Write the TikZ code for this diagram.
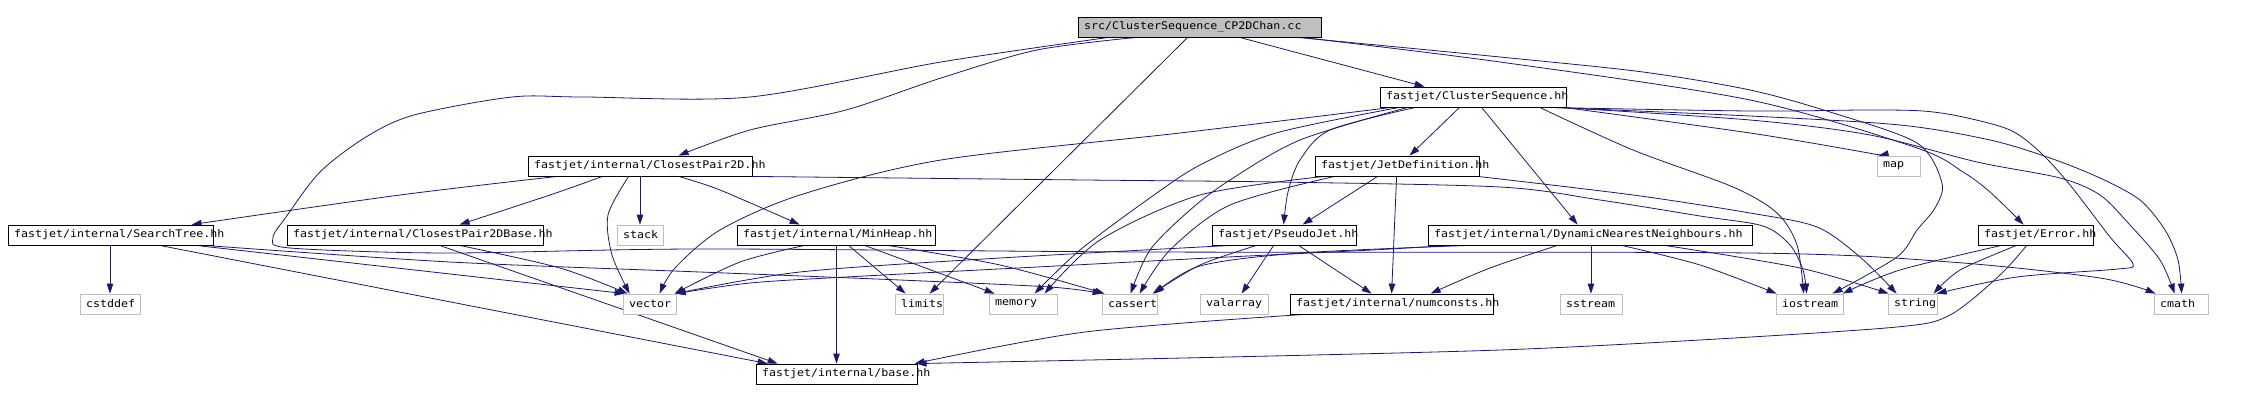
\documentclass[tikz,border=0pt]{standalone}
\usepackage{fontspec}
\usetikzlibrary{arrows.meta}
\newfontfamily\dxfont[FakeStretch=1.11]{DejaVu Sans Mono}
\definecolor{edgeblue}{HTML}{191970}
\definecolor{sysgray}{HTML}{BFBFBF}
\newcommand{\dxb}[2]{\makebox[#1pt][l]{\hspace{6pt}#2}}
\pgfdeclarelayer{edgelayer}
\pgfsetlayers{edgelayer,main}
\tikzset{
  fnode/.style={draw=black, line width=0.8pt, fill=white, minimum height=20pt, inner xsep=0pt, inner ysep=0pt, anchor=center, font=\dxfont\fontsize{10.5pt}{12pt}\selectfont},
  snode/.style={fnode, draw=sysgray},
  edge/.style={draw=edgeblue, line width=0.8pt, -{Triangle[length=10pt,width=6.5pt]}},
}
\begin{document}
\begin{tikzpicture}[x=1pt,y=-1pt]
\useasboundingbox (0,0) rectangle (2249,401);
% nodes
\node[fnode, fill=sysgray] (R) at (1199.5,27) {\dxb{243}{src/ClusterSequence\_CP2DChan.cc}};
\node[fnode] (CS) at (1473,97) {\dxb{186}{fastjet/ClusterSequence.hh}};
\node[fnode] (CP) at (640,166) {\dxb{224}{fastjet/internal/ClosestPair2D.hh}};
\node[fnode] (JD) at (1397,166) {\dxb{164}{fastjet/JetDefinition.hh}};
\node[snode] (map) at (1898.5,166) {\dxb{43}{map}};
\node[fnode] (ST) at (110.5,235) {\dxb{205}{fastjet/internal/SearchTree.hh}};
\node[fnode] (CPB) at (415,235) {\dxb{256}{fastjet/internal/ClosestPair2DBase.hh}};
\node[snode] (stack) at (640,235) {\dxb{46}{stack}};
\node[fnode] (MH) at (836,235) {\dxb{198}{fastjet/internal/MinHeap.hh}};
\node[fnode] (PJ) at (1284,235) {\dxb{144}{fastjet/PseudoJet.hh}};
\node[fnode] (DNN) at (1590,235) {\dxb{324}{fastjet/internal/DynamicNearestNeighbours.hh}};
\node[fnode] (Err) at (2035.5,235) {\dxb{115}{fastjet/Error.hh}};
\node[snode] (cstddef) at (110,304) {\dxb{60}{cstddef}};
\node[snode] (vector) at (649.5,304) {\dxb{53}{vector}};
\node[snode] (limits) at (919,304) {\dxb{48}{limits}};
\node[snode] (memory) at (1023,304) {\dxb{68}{memory}};
\node[snode] (cassert) at (1129.5,304) {\dxb{55}{cassert}};
\node[snode] (valarray) at (1234,304) {\dxb{68}{valarray}};
\node[fnode] (numconsts) at (1391.5,304) {\dxb{203}{fastjet/internal/numconsts.hh}};
\node[snode] (sstream) at (1591,304) {\dxb{62}{sstream}};
\node[snode] (iostream) at (1809.5,304) {\dxb{67}{iostream}};
\node[snode] (string) at (1912.5,304) {\dxb{49}{string}};
\node[snode] (cmath) at (2181,304) {\dxb{54}{cmath}};
\node[fnode] (base) at (836.5,374) {\dxb{161}{fastjet/internal/base.hh}};
\begin{pgfonlayer}{edgelayer}
% root
\draw[edge] ([xshift=162pt]R.south west) -- ([xshift=45pt]CS.north west);
\draw[edge] plot[smooth] coordinates {([xshift=59pt]R.south west) (1037,50) (941,78) (846,110) (750,130) ([xshift=151pt]CP.north west)};
\draw[edge] ([xshift=110pt]R.south west) -- ([xshift=35pt]limits.north west);
\draw[edge] plot[smooth] coordinates {([xshift=31pt]R.south west) (941,62) (750,97) (583,97) (512,97) (414,115) (366,137) (320,172) (286,217) (273,238) (290,248) (446,253) (700,249) (1150,252) (1750,253) (1950,262) (2100,278) ([xshift=2pt]cmath.north west)};
\draw[edge] plot[smooth] coordinates {([xshift=220pt]R.south west) (1500,57) (1643,72) (1750,90) (1830,112) (1917,143) (1942,183) (1935,208) (1917,230) (1897,257) ([xshift=57pt]iostream.north west)};
\draw[edge] plot[smooth] coordinates {([xshift=224pt]R.south west) (1500,62) (1750,100) (1917,148) (1963,172) (1990,192) ([xshift=46pt]Err.north west)};
% ClusterSequence
\draw[edge] ([xshift=80pt]CS.south west) -- ([xshift=95pt]JD.north west);
\draw[edge] ([xshift=102pt]CS.south west) -- ([xshift=150pt]DNN.north west);
\draw[edge] plot[smooth] coordinates {([xshift=36pt]CS.south west) (1330,130) (1300,160) (1288,192) ([xshift=72pt]PJ.north west)};
\draw[edge] plot[smooth] coordinates {([xshift=12pt]CS.south west) (1180,133) (941,160) (800,195) (720,230) (675,268) ([xshift=37pt]vector.north west)};
\draw[edge] plot[smooth] coordinates {([xshift=20pt]CS.south west) (1276,133) (1200,165) (1147,200) (1080,250) ([xshift=46pt]memory.north west)};
\draw[edge] plot[smooth] coordinates {([xshift=28pt]CS.south west) (1300,140) (1230,180) (1190,210) (1150,250) ([xshift=29pt]cassert.north west)};
\draw[edge] plot[smooth] coordinates {([xshift=184pt]CS.south west) (1750,133) (1863,152) ([xshift=2pt]map.north west)};
\draw[edge] plot[smooth] coordinates {([xshift=166pt]CS.south west) (1750,111) (1867,110) (1923,111) (1963,117) (2010,130) (2040,152) (2070,185) (2110,237) (2133,264) (2118,269) (2017,277) ([xshift=49pt]string.north west)};
\draw[edge] plot[smooth] coordinates {([xshift=172pt]CS.south west) (1750,116) (1900,125) (1990,140) (2050,158) (2100,178) (2140,200) (2165,230) (2178,260) ([xshift=28pt]cmath.north west)};
\draw[edge] plot[smooth] coordinates {([xshift=178pt]CS.south west) (1750,120) (1870,135) (1977,162) (2060,178) (2100,195) (2130,225) (2160,260) ([xshift=21pt]cmath.north west)};
\draw[edge] plot[smooth] coordinates {([xshift=160pt]CS.south west) (1633,150) (1733,187) (1777,213) (1797,245) ([xshift=28pt]iostream.north west)};
% ClosestPair2D
\draw[edge] plot[smooth] coordinates {([xshift=30pt]CP.south west) (400,195) ([xshift=184pt]ST.north west)};
\draw[edge] plot[smooth] coordinates {([xshift=75pt]CP.south west) (550,195) ([xshift=173pt]CPB.north west)};
\draw[edge] (CP.south -| stack.north) -- (stack.north);
\draw[edge] plot[smooth] coordinates {([xshift=101pt]CP.south west) (608,215) (612,255) ([xshift=7pt]vector.north west)};
\draw[edge] plot[smooth] coordinates {([xshift=151pt]CP.south west) (720,190) ([xshift=63pt]MH.north west)};
\draw[edge] plot[smooth] coordinates {([xshift=222pt]CP.south west) (1085,180) (1276,182) (1500,187) (1600,200) (1700,216) (1763,226) (1790,245) (1803,270) ([xshift=31pt]iostream.north west)};
% JetDefinition
\draw[edge] ([xshift=63pt]JD.south west) -- ([xshift=91pt]PJ.north west);
\draw[edge] ([xshift=82pt]JD.south west) -- ([xshift=102pt]numconsts.north west);
\draw[edge] plot[smooth] coordinates {([xshift=10pt]JD.south west) (1200,195) (1100,240) ([xshift=56pt]memory.north west)};
\draw[edge] plot[smooth] coordinates {([xshift=20pt]JD.south west) (1230,205) (1170,250) ([xshift=38pt]cassert.north west)};
\draw[edge] plot[smooth] coordinates {([xshift=163pt]JD.south west) (1633,195) (1750,213) (1817,227) (1860,257) ([xshift=9pt]string.north west)};
% SearchTree
\draw[edge] (ST.south -| cstddef.north) -- (cstddef.north);
\draw[edge] ([xshift=152pt]ST.south west) -- ([xshift=12pt]base.north west);
\draw[edge] ([xshift=188pt]ST.south west) -- ([xshift=2pt]vector.north west);
\draw[edge] plot[smooth] coordinates {([xshift=197pt]ST.south west) (450,262) (700,272) (900,280) (1050,287) ([xshift=1pt]cassert.north west)};
% ClosestPair2DBase
\draw[edge] ([xshift=153pt]CPB.south west) -- ([xshift=22pt]base.north west);
\draw[edge] plot[smooth] coordinates {([xshift=173pt]CPB.south west) (560,268) ([xshift=5pt]vector.north west)};
% MinHeap
\draw[edge] plot[smooth] coordinates {([xshift=68pt]MH.south west) (740,262) ([xshift=52pt]vector.north west)};
\draw[edge] (MH.south -| base.north) -- (base.north);
\draw[edge] ([xshift=112pt]MH.south west) -- ([xshift=11pt]limits.north west);
\draw[edge] ([xshift=128pt]MH.south west) -- ([xshift=6pt]memory.north west);
\draw[edge] plot[smooth] coordinates {([xshift=151pt]MH.south west) (1000,265) ([xshift=3pt]cassert.north west)};
% PseudoJet
\draw[edge] plot[smooth] coordinates {([xshift=45pt]PJ.south west) (1200,265) ([xshift=51pt]cassert.north west)};
\draw[edge] ([xshift=62pt]PJ.south west) -- ([xshift=42pt]valarray.north west);
\draw[edge] ([xshift=87pt]PJ.south west) -- ([xshift=82pt]numconsts.north west);
\draw[edge] plot[smooth] coordinates {([xshift=20pt]PJ.south west) (1000,258) (800,272) ([xshift=53pt]vector.north west)};
% DynamicNearestNeighbours
\draw[edge] plot[smooth] coordinates {([xshift=22pt]DNN.south west) (1372,250) (1228,257) (1037,267) (846,277) (750,283) ([xshift=53pt]vector.north west)};
\draw[edge] plot[smooth] coordinates {([xshift=42pt]DNN.south west) (1300,253) (1200,266) ([xshift=53pt]cassert.north west)};
\draw[edge] plot[smooth] coordinates {([xshift=130pt]DNN.south west) (1490,268) ([xshift=141pt]numconsts.north west)};
\draw[edge] (DNN.south -| sstream.north) -- (sstream.north);
\draw[edge] plot[smooth] coordinates {([xshift=194pt]DNN.south west) (1700,265) ([xshift=1pt]iostream.north west)};
\draw[edge] plot[smooth] coordinates {([xshift=237pt]DNN.south west) (1800,268) ([xshift=1pt]string.north west)};
% Error
\draw[edge] plot[smooth] coordinates {([xshift=24pt]Err.south west) (1900,270) ([xshift=67pt]iostream.north west)};
\draw[edge] plot[smooth] coordinates {([xshift=39pt]Err.south west) (1960,270) ([xshift=46pt]string.north west)};
\draw[edge] plot[smooth] coordinates {([xshift=49pt]Err.south west) (2000,275) (1950,315) (1897,327) (1700,340) (1500,350) (1228,357) ([xshift=161pt]base.north west)};
% numconsts
\draw[edge] plot[smooth] coordinates {([xshift=15pt]numconsts.south west) (1085,332) ([xshift=159pt]base.north west)};
\end{pgfonlayer}
\end{tikzpicture}
\end{document}
